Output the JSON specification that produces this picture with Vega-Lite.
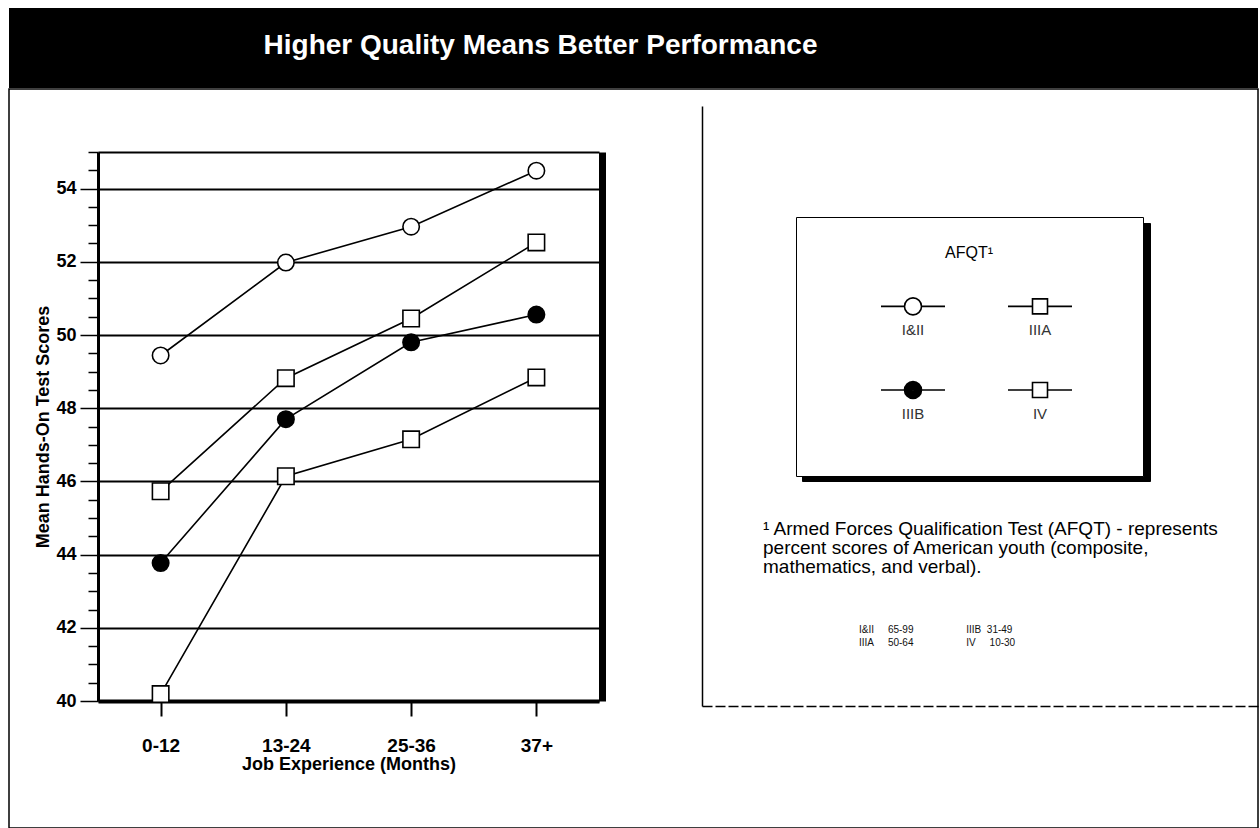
{
  "$schema": "https://vega.github.io/schema/vega-lite/v6.json",
  "padding": {"left": 8, "top": 8, "right": 2, "bottom": 0},
  "background": "white",
  "spacing": 0,
  "config": {"font": "Liberation Sans", "view": {"stroke": null}},
  "resolve": {"scale": {"color": "independent", "shape": "independent", "strokeDash": "independent"}},
  "datasets": {
    "scores": [
      {"period": "0-12", "group": "I&II", "score": 49.44},
      {"period": "0-12", "group": "IIIA", "score": 45.73},
      {"period": "0-12", "group": "IIIB", "score": 43.77},
      {"period": "0-12", "group": "IV", "score": 40.19},
      {"period": "13-24", "group": "I&II", "score": 51.98},
      {"period": "13-24", "group": "IIIA", "score": 48.82},
      {"period": "13-24", "group": "IIIB", "score": 47.70},
      {"period": "13-24", "group": "IV", "score": 46.14},
      {"period": "25-36", "group": "I&II", "score": 52.96},
      {"period": "25-36", "group": "IIIA", "score": 50.45},
      {"period": "25-36", "group": "IIIB", "score": 49.80},
      {"period": "25-36", "group": "IV", "score": 47.15},
      {"period": "37+", "group": "I&II", "score": 54.49},
      {"period": "37+", "group": "IIIA", "score": 52.53},
      {"period": "37+", "group": "IIIB", "score": 50.56},
      {"period": "37+", "group": "IV", "score": 48.84}
    ],
    "groups": [{"group": "I&II"}, {"group": "IIIA"}, {"group": "IIIB"}, {"group": "IV"}],
    "ranges": [
      {"row": "I&II\u00a0\u00a0\u00a0\u00a0\u00a065-99\u00a0\u00a0\u00a0\u00a0\u00a0\u00a0\u00a0\u00a0\u00a0\u00a0\u00a0\u00a0\u00a0\u00a0\u00a0\u00a0\u00a0\u00a0\u00a0IIIB\u00a0\u00a031-49"},
      {"row": "IIIA\u00a0\u00a0\u00a0\u00a0\u00a050-64\u00a0\u00a0\u00a0\u00a0\u00a0\u00a0\u00a0\u00a0\u00a0\u00a0\u00a0\u00a0\u00a0\u00a0\u00a0\u00a0\u00a0\u00a0\u00a0IV\u00a0\u00a0\u00a0\u00a0\u00a010-30"}
    ],
    "shadow": [{"k": "shadow"}]
  },
  "vconcat": [
    {
      "width": 1249,
      "height": 80,
      "view": {"fill": "black", "stroke": null},
      "data": {"values": [{"t": "Higher Quality Means Better Performance"}]},
      "mark": {"type": "text", "color": "white", "font": "Liberation Sans", "fontWeight": "bold", "fontSize": 28, "dx": -93, "dy": -2},
      "encoding": {"text": {"field": "t"}}
    },
    {
      "width": 1249,
      "height": 739,
      "view": {"stroke": "black", "strokeWidth": 1.5},
      "layer": [
        {
          "data": {"name": "scores"},
          "layer": [
            {
              "mark": {"type": "line", "color": "black", "strokeWidth": 1.6},
              "encoding": {
                "x": {
                  "field": "period", "type": "ordinal", "sort": ["0-12", "13-24", "25-36", "37+"],
                  "scale": {"type": "point", "domain": ["0-12", "13-24", "25-36", "37+"], "range": [89, 590], "padding": 0.5},
                  "axis": {
                    "orient": "bottom", "offset": -127, "grid": false,
                    "title": "Job Experience (Months)", "titleFont": "Liberation Sans", "titleFontSize": 18, "titleFontWeight": "bold", "titleColor": "black", "titleY": 54, "titleBaseline": "top",
                    "labelFont": "Liberation Sans", "labelFontSize": 19, "labelFontWeight": "bold", "labelColor": "black", "labelPadding": 20, "labelAngle": 0,
                    "tickSize": 15, "tickWidth": 2, "tickColor": "black",
                    "domainColor": "black", "domainWidth": 4
                  }
                },
                "y": {
                  "field": "score", "type": "quantitative",
                  "scale": {"domain": [40, 55], "range": [612, 63], "zero": false, "nice": false},
                  "axis": {
                    "orient": "left", "offset": -89,
                    "values": [40, 42, 44, 46, 48, 50, 52, 54],
                    "format": "d", "labelOverlap": false,
                    "labelFont": "Liberation Sans", "labelFontSize": 18, "labelFontWeight": "bold", "labelColor": "black", "labelPadding": 4,
                    "tickSize": 18, "tickWidth": 1.5, "tickColor": "black",
                    "domainColor": "black", "domainWidth": 3,
                    "grid": true, "gridColor": "black", "gridWidth": 2,
                    "title": "Mean Hands-On Test Scores", "titleFont": "Liberation Sans", "titleFontSize": 18, "titleFontWeight": "bold", "titleColor": "black",
                    "titleX": -55, "titleBaseline": "middle"
                  }
                },
                "detail": {"field": "group"}
              }
            },
            {
              "mark": {"type": "point", "size": 0},
              "encoding": {
                "x": {"field": "period", "type": "ordinal", "sort": ["0-12", "13-24", "25-36", "37+"], "axis": null},
                "y": {
                  "field": "score", "type": "quantitative",
                  "axis": {
                    "orient": "left", "offset": -89,
                    "values": [40.5, 41, 41.5, 42.5, 43, 43.5, 44.5, 45, 45.5, 46.5, 47, 47.5, 48.5, 49, 49.5, 50.5, 51, 51.5, 52.5, 53, 53.5, 54.5, 55],
                    "labels": false, "tickSize": 10, "tickWidth": 1.5, "tickColor": "black",
                    "domain": false, "grid": false, "title": null
                  }
                }
              }
            },
            {
              "mark": {"type": "point", "filled": true, "stroke": "black", "strokeWidth": 1.6, "size": 270, "opacity": 1},
              "encoding": {
                "x": {
                  "field": "period", "type": "ordinal", "sort": ["0-12", "13-24", "25-36", "37+"],
                  "axis": {"orient": "top", "offset": -63, "labels": false, "ticks": false, "title": null, "grid": false, "domainColor": "black", "domainWidth": 2}
                },
                "y": {
                  "field": "score", "type": "quantitative",
                  "axis": {"orient": "right", "offset": -656, "labels": false, "ticks": false, "title": null, "grid": false, "domainColor": "black", "domainWidth": 7}
                },
                "shape": {
                  "field": "group", "type": "nominal",
                  "scale": {"domain": ["I&II", "IIIA", "IIIB", "IV"], "range": ["circle", "square", "circle", "square"]},
                  "legend": null
                },
                "fill": {
                  "field": "group", "type": "nominal",
                  "scale": {"domain": ["I&II", "IIIA", "IIIB", "IV"], "range": ["white", "white", "black", "white"]},
                  "legend": null
                }
              }
            }
          ],
          "resolve": {"axis": {"x": "independent", "y": "independent"}}
        },
        {
          "data": {"name": "shadow"},
          "mark": {"type": "point", "size": 0},
          "encoding": {
            "color": {
              "field": "k", "type": "nominal",
              "legend": {
                "orient": "none", "legendX": 793, "legendY": 134, "direction": "vertical", "columns": 1, "padding": 0,
                "title": null, "fillColor": "black", "strokeColor": "black",
                "symbolType": "M-1,-1M5.96,4.16", "symbolSize": 10000, "symbolStrokeWidth": 0, "symbolOpacity": 0,
                "labelExpr": "''", "labelOffset": 0
              }
            }
          }
        },
        {
          "data": {"name": "groups"},
          "mark": {"type": "point", "size": 0, "stroke": "black", "strokeWidth": 1.6, "filled": false},
          "encoding": {
            "shape": {
              "field": "group", "type": "nominal",
              "scale": {
                "domain": ["I&II", "IIIA", "IIIB", "IV"],
                "range": [
                  "M-1.28,0L-0.34,0M0.34,0L1.28,0M0.34,0A0.34,0.34,0,1,1,-0.34,0A0.34,0.34,0,1,1,0.34,0ZM1.36,2.16",
                  "M-1.28,0L-0.3,0M0.3,0L1.28,0M-0.3,-0.3L0.3,-0.3L0.3,0.3L-0.3,0.3ZM2.84,2.16",
                  "M-1.28,0L-0.34,0M0.34,0L1.28,0M0.34,0A0.34,0.34,0,1,1,-0.34,0A0.34,0.34,0,1,1,0.34,0ZM0.28,0A0.28,0.28,0,1,1,-0.28,0A0.28,0.28,0,1,1,0.28,0ZM0.22,0A0.22,0.22,0,1,1,-0.22,0A0.22,0.22,0,1,1,0.22,0ZM0.16,0A0.16,0.16,0,1,1,-0.16,0A0.16,0.16,0,1,1,0.16,0ZM0.1,0A0.1,0.1,0,1,1,-0.1,0A0.1,0.1,0,1,1,0.1,0ZM0.04,0A0.04,0.04,0,1,1,-0.04,0A0.04,0.04,0,1,1,0.04,0ZM1.36,2.16",
                  "M-1.28,0L-0.3,0M0.3,0L1.28,0M-0.3,-0.3L0.3,-0.3L0.3,0.3L-0.3,0.3ZM2.84,2.16"
                ]
              },
              "legend": {
                "orient": "none", "legendX": 787, "legendY": 128, "direction": "horizontal", "columns": 2,
                "columnPadding": 0, "rowPadding": 0, "padding": 28,
                "strokeColor": "black", "fillColor": "white",
                "title": "AFQT\u00b9",
                "titleFont": "Liberation Sans", "titleFontSize": 16, "titleFontWeight": "normal", "titleColor": "black", "titleAnchor": "middle", "titlePadding": 19, "titleLimit": 500,
                "symbolSize": 2500, "symbolOffset": 63, "symbolStrokeColor": "black", "symbolFillColor": "transparent", "symbolStrokeWidth": 1.6, "symbolOpacity": 1,
                "labelFont": "Liberation Sans", "labelFontSize": 15, "labelColor": "#333", "labelAlign": "center", "labelBaseline": "top", "labelOffset": -26,
                "labelExpr": "['', datum.label]"
              }
            }
          }
        },
        {
          "data": {"name": "ranges"},
          "mark": {"type": "point", "size": 0},
          "encoding": {
            "strokeDash": {
              "field": "row", "type": "nominal",
              "legend": {
                "orient": "none", "legendX": 754, "legendY": 431, "direction": "vertical", "columns": 1, "padding": 0,
                "title": ["\u00b9 Armed Forces Qualification Test (AFQT) - represents", "\u00a0\u00a0percent scores of American youth (composite,", "\u00a0\u00a0mathematics, and verbal)."],
                "titleFont": "Liberation Sans", "titleFontSize": 19, "titleFontWeight": "normal", "titleColor": "black", "titleLineHeight": 19, "titleLimit": 1000, "titlePadding": 48, "titleAnchor": "start",
                "labelFont": "Liberation Sans", "labelFontSize": 10, "labelColor": "#111", "labelLimit": 600, "labelOffset": 86, "labelBaseline": "middle",
                "symbolSize": 0, "symbolStrokeWidth": 0, "symbolOpacity": 0, "rowPadding": 3
              }
            }
          }
        },
        {
          "data": {"name": "scores"},
          "mark": {"type": "point", "size": 0},
          "encoding": {
            "x": {
              "field": "period", "type": "ordinal",
              "scale": {"type": "point", "range": [693, 1249]},
              "axis": {"orient": "bottom", "offset": -122, "labels": false, "ticks": false, "title": null, "grid": false, "domainColor": "black", "domainWidth": 1.5, "domainDash": [10, 3]}
            },
            "y": {
              "field": "score", "type": "quantitative",
              "scale": {"domain": [40, 55], "range": [617, 17], "zero": false, "nice": false},
              "axis": {"orient": "left", "offset": -693, "labels": false, "ticks": false, "title": null, "grid": false, "domainColor": "black", "domainWidth": 1.5}
            }
          }
        }
      ],
      "resolve": {
        "scale": {"x": "independent", "y": "independent", "shape": "independent", "fill": "independent"},
        "axis": {"x": "independent", "y": "independent"}
      }
    }
  ]
}
